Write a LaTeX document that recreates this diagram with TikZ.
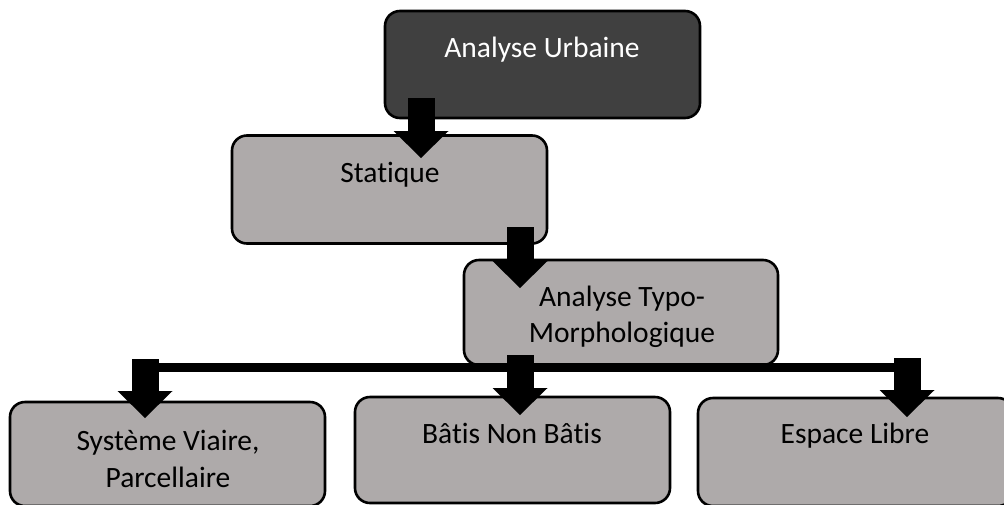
\documentclass[tikz,border=0pt]{standalone}
\usepackage{fontspec}
\setmainfont{Carlito}[Ligatures={NoCommon}]
\usetikzlibrary{arrows.meta}
\definecolor{darkbox}{HTML}{404040}
\definecolor{greybox}{HTML}{AEAAAA}
\tikzset{
  boxbase/.style={draw=black, line width=2.6pt, rounded corners=15pt, inner sep=0pt, minimum width=315pt},
  darkstep/.style={boxbase, fill=darkbox},
  greystep/.style={boxbase, fill=greybox},
  lbl/.style={font=\fontsize{29.5}{36.5}\selectfont, text=black, align=center, inner sep=0pt},
  blockarrow/.style={line width=27pt, -{Triangle[width=55pt,length=27pt,line width=0pt]}},
  barline/.style={line width=9pt}
}
\begin{document}
\begin{tikzpicture}[x=1pt,y=-1pt]
\useasboundingbox (0,0) rectangle (1004,504);
\clip (0,0) rectangle (1004,504);
% boxes
\node[darkstep, minimum height=107pt] (au) at (542.5,64.5) {};
\node[greystep, minimum height=108pt] (st) at (389.5,189.5) {};
\node[greystep, minimum height=105pt, minimum width=314pt] (tm) at (621,312.5) {};
\node[greystep, minimum height=104pt] (sv) at (167.5,454) {};
\node[greystep, minimum height=106pt] (bn) at (512.5,450) {};
\node[greystep, minimum height=108pt] (el) at (855.5,452) {};
% texts
\node[lbl, text=white, anchor=base] (aut) at (542,57) {Analyse Urbaine};
\node[lbl, anchor=base] (stt) at (390,182) {Statique};
\node[lbl] (tmt) at (622,317) {Analyse Typo-\\Morphologique};
\node[lbl] (svt) at (168,459) {Système Viaire,\\Parcellaire};
\node[lbl, anchor=base] (bnt) at (512,443) {Bâtis Non Bâtis};
\node[lbl, anchor=base] (elt) at (855,443) {Espace Libre};
% connector coordinates
\coordinate (a1s) at (421,98);  \coordinate (a1e) at (421,158);
\coordinate (a2s) at (520,227); \coordinate (a2e) at (520,288);
\coordinate (bl) at (145,367.5); \coordinate (br) at (907,367.5);
\coordinate (b1s) at (145,359); \coordinate (b1e) at (145,418);
\coordinate (bm) at (520,355); \coordinate (b2e) at (520,415);
\coordinate (b3s) at (907,358); \coordinate (b3e) at (907,417);
% connectors
\draw[blockarrow] (a1s) -- (a1e);
\draw[blockarrow] (a2s) -- (a2e);
\draw[barline] (bl) -- (br);
\draw[blockarrow] (b1s) -- (b1e);
\draw[blockarrow] (bm) -- (b2e);
\draw[blockarrow] (b3s) -- (b3e);
\end{tikzpicture}
\end{document}
